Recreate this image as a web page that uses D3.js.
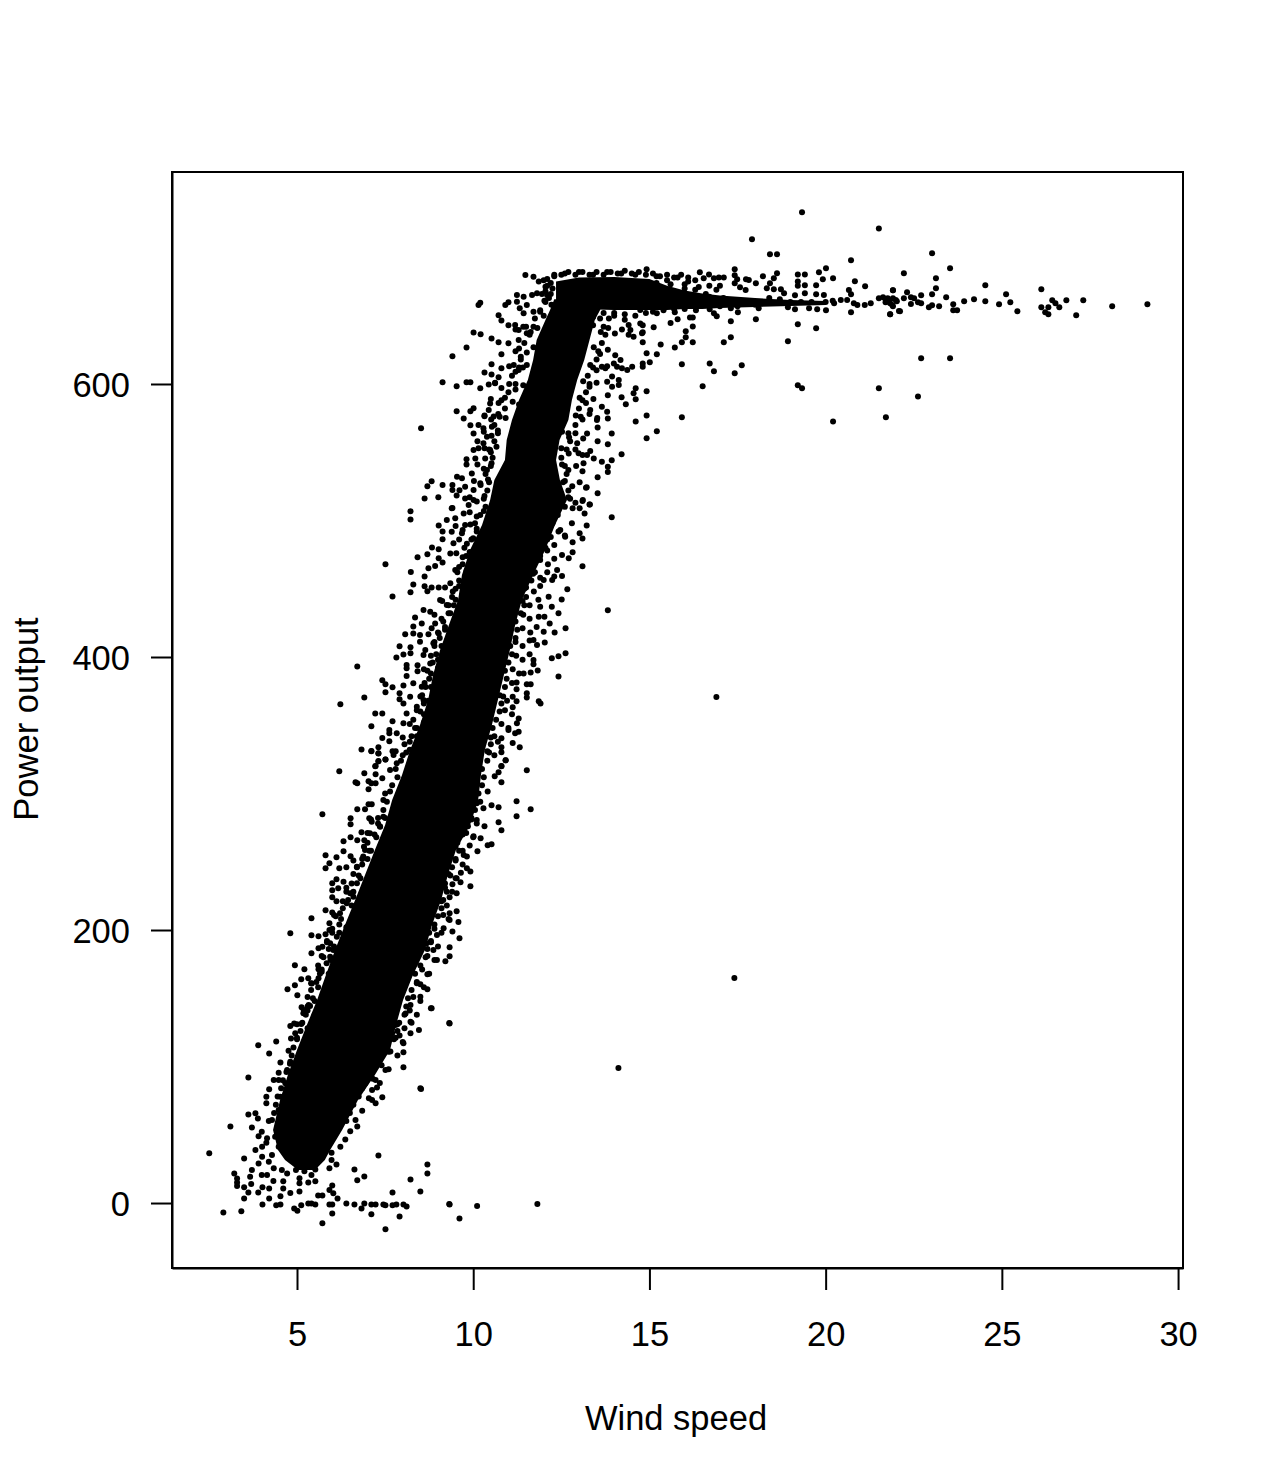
<!DOCTYPE html>
<html lang="en">

<head>
	<title>Wind speed and power output</title>
	<meta charset="utf-8">
	<style>
		body {
			margin: 0;
			background: #fff;
		}

		text {
			font-family: "Liberation Sans", Arial, sans-serif;
			font-size: 34.5px;
			fill: #000;
		}

		.domain,
		.tick line {
			stroke: #000;
			stroke-width: 2px;
		}
	</style>
</head>

<body>
	<svg width="1272" height="1484"></svg>

	<script src="https://d3js.org/d3.v7.min.js"></script>
	<script>
		var xTicks = [5, 10, 15, 20, 25, 30];
		var yTicks = [0, 200, 400, 600];

		// the solid black band, where the points overlap too much to read one by one
		var bandPower = [24.2, 31.5, 38.8, 53.5, 75.5, 93.8, 112.1, 130.4, 148.7, 167, 185.3, 203.7, 222, 240.3, 258.6, 276.9, 295.2, 313.6, 331.9, 350.2, 368.5, 386.8, 405.1, 423.4, 441.8, 460.1, 478.4, 496.7, 515, 529.7, 544.3, 559, 573.6, 588.3, 602.9, 617.6, 632.2, 646.9, 654.2, 662];
		var bandLeft = [5.03, 4.66, 4.46, 4.32, 4.52, 4.74, 5, 5.28, 5.57, 5.82, 6.08, 6.36, 6.65, 6.93, 7.21, 7.5, 7.7, 7.98, 8.21, 8.49, 8.72, 8.86, 9.06, 9.31, 9.57, 9.68, 9.91, 10.25, 10.48, 10.6, 10.9, 10.95, 11.1, 11.3, 11.55, 11.7, 11.8, 12.05, 12.18, 12.3];
		var bandRight = [5.51, 5.79, 5.94, 6.28, 6.73, 7.21, 7.64, 7.81, 8.01, 8.29, 8.63, 8.83, 9.09, 9.28, 9.51, 9.91, 10.14, 10.22, 10.33, 10.53, 10.7, 10.87, 11.04, 11.19, 11.38, 11.7, 12.04, 12.32, 12.66, 12.46, 12.35, 12.45, 12.7, 12.8, 12.95, 13.15, 13.3, 13.45, 13.6, 13.7];

		// same thing for the flat part at rated power
		var plateauWind = [12.35, 13, 14, 15, 15.5, 16, 16.5, 17, 18, 19, 20];
		var plateauLow = [658, 655, 654.2, 654.2, 654.2, 655, 655, 655.7, 656.4, 657.1, 657.9];
		var plateauHigh = [675, 678, 678.4, 677, 672, 668.5, 666.3, 664.8, 663, 661.5, 660.8];

		// [wind, power]
		var lowPoints = [[2.51,36.4],[2.91,-6.9],[3.42,-6.1],[3.11,56.1],[3.62,92],[3.9,115.5],[4.41,118.4],[4.21,109.6],[4.53,103],[3.62,64.9],[3.22,21.7],[3.3,18],[3.3,15.1],[3.3,12.4],[3.5,32.7],[3.5,11.5],[3.62,7.8],[3.5,3.4],[3.7,13.9],[3.9,7.8],[4.02,11.5],[4.21,10.7],[4.02,-1],[4.21,3.4],[4.33,16.1],[4.53,4.9],[4.61,10.7],[4.61,15.9],[4.81,7.3],[4.41,-1.7],[4.53,-1],[4.92,-4],[5.01,-5.6],[5.12,-1.7],[5.32,-0.3],[5.41,-0.3],[5.52,-1],[5.72,-14.9],[6,-7.6],[5.92,-1],[6,-1],[6.4,-0.3],[6.63,-1],[6.83,-4],[6.91,-0.3],[7.11,-1],[7.23,-1],[7.11,-8.3],[7.45,-1],[7.51,-1.7],[7.51,-19.3],[7.71,-1.7],[7.82,-1],[7.91,-9.8],[8.02,-1],[8.11,-2.5],[9.33,-1],[9.61,-11.3],[7.71,7.8],[8.5,8.5],[8.22,17.3],[8.7,21.7],[8.7,28.3],[7.31,34.9],[6.91,19.5],[6.71,16.6],[6.63,24.6],[6.51,52.5],[6.71,56.1],[7.23,73],[7.42,77.4],[8.5,84],[8.02,99.4],[8.02,110.4],[8.02,117],[9.33,131.6],[8.82,142.6],[8.22,124.3],[8.46,126.7],[7.91,122.8],[5.52,24.6],[5.41,20.5],[5.21,23.2],[5.32,15.1],[5.52,15.9],[5.07,18.1],[5.07,14.4],[5.07,8.5],[5.6,5.6],[5.72,5.6],[6,12.9],[5.92,9.5],[6.03,7.1],[6.15,3.4],[6.12,28.3],[5.92,25.4],[5.98,31.5],[5.98,36.9],[6.66,60.8],[7.13,82.8],[7.27,84.7],[7.04,76.7],[7.13,75.4],[6.85,67.6],[6.37,46.6],[6.23,41.2],[4,52.2],[3.72,55.4],[3.91,49],[3.82,65.7],[3.89,62],[4.15,47.4],[4.13,44.2],[3.82,38.8],[4.01,41.3],[4.01,33.9],[4.2,30.3],[3.72,24.2],[3.91,29],[3.67,19.3],[4,20.5],[4.15,20.5],[4.34,25.4],[4.57,24.2],[4.72,21.7],[4.97,24.2],[5.33,29],[4.21,83.3],[4.13,77.9],[4.13,73],[4.34,90.1],[4.48,95.5],[4.72,97.4],[4.81,103.5],[4.76,111.6],[4.83,120.6],[4.95,124.3],[4.81,129.7],[4.92,131.6],[5.12,131.1],[5.19,141.4],[5.33,145],[7.79,130.4],[7.7,124.3],[7.6,110.8],[7.51,97.4],[7.23,90.1],[6.94,87.7],[8.08,138.9],[8.22,132.8],[8.22,145],[4.48,90.1],[4.67,87.7],[4.53,77.9],[4.48,68.1],[4.29,60.8],[4.38,48.6],[4.48,41.3],[4.29,35.1],[8.52,83.5],[9.32,131.9],[9.32,-0.7],[10.11,-2.2],[11.82,-0.7],[14.12,98.9],[17.41,164.8]];

		var midPoints = [[6.2,316.3],[6.91,314.8],[7.23,314.1],[7.23,320.2],[7.31,323.8],[7.31,329.5],[7.11,331.2],[7.51,325],[6.66,308.2],[6.71,307.5],[7.03,308.9],[7.11,307.5],[7.23,307.5],[7.42,311.1],[7.03,303.1],[6.71,288.4],[5.72,284.8],[6.52,281.8],[6.52,277.4],[6.93,288.4],[7.05,281.8],[7.12,279.4],[7.03,292.1],[7.12,292.1],[6.83,271.6],[6.32,265],[6.52,267.9],[6.71,265.7],[6.91,265.7],[6.32,257.7],[5.81,254.7],[6.12,253.3],[6.52,254],[5.92,248.9],[5.81,245.2],[6.2,245.2],[6.4,245.9],[6.12,237.2],[6.32,235.4],[6,234.2],[6.17,230.6],[6,229.1],[6,224],[6.12,221],[5.81,214.4],[6,212.9],[5.41,208.6],[4.81,197.6],[5.41,196.1],[5.61,195.4],[5.81,196.9],[5.92,204.9],[5.92,200],[5.61,186.6],[5.72,187.8],[5.41,182.9],[4.94,174.2],[5.21,171.2],[5.12,163.9],[5.32,164.6],[5.61,171.2],[5.61,164.6],[4.73,156.6],[4.94,159.5],[5.01,152.2],[5.42,160.9],[5.13,143.4],[5.37,144.4],[5.18,139],[5.84,175.6],[5.7,169.5],[5.94,180.5],[5.94,190.3],[6.13,195.1],[6.03,185.4],[6.41,219.6],[6.22,212.2],[6.6,224.4],[6.51,226.9],[6.7,234.2],[6.93,258.6],[6.88,253.8],[6.7,246.4],[7.07,270.9],[7.36,275.7],[7.45,283],[7.45,295.3],[7.64,301.4],[7.64,317.2],[7.83,322.1],[7.74,328.2],[11.52,317],[11.23,294.3],[11.63,288.4],[11.23,283.3],[10.72,289.9],[10.52,291.4],[10.72,278.9],[10.8,273],[10.32,276],[10.01,268.7],[10.21,267.2],[10.52,262.8],[10.41,262.1],[10.12,257.7],[10.8,308.2],[10.61,312.6],[10.72,315.5],[10.8,320.2],[10.92,324.3],[10.8,330.2],[10.41,301.4],[10.1,292.8],[10.29,289.2],[10.1,280.6],[9.73,255],[9.82,253.8],[9.82,245.2],[9.92,242.8],[9.41,233.5],[9.64,234.9],[9.92,232],[9.53,226.9],[9.33,224],[9.53,237.9],[9.53,213.7],[9.33,212.2],[9.58,205.9],[9.33,207.4],[9.41,199],[9.61,193.9],[9.16,201.3],[8.97,196.4],[9.33,187.3],[9.33,180.7],[9.21,177.1],[8.97,178],[8.7,167.6],[8.5,160.2],[8.7,156.6],[8.5,151.2],[8.8,142.6],[8.87,185.4],[8.68,190.3],[16.9,370.7]];

		var upperPoints = [[8.22,506.7],[8.22,500.8],[9.02,496.4],[9.13,492],[9.13,486.2],[9.39,508.9],[9.25,500.3],[9.49,501.6],[9.39,491.8],[8.83,480.3],[9.02,478.9],[8.7,475.2],[8.42,473],[9.02,472.3],[9.13,469.3],[7.51,467.9],[8.73,465],[8.92,466.6],[8.23,462.3],[8.62,459],[8.3,453.2],[8.22,447.4],[7.71,444.4],[8.62,451.8],[8.82,451],[8.7,448.1],[9.02,451],[9.06,441.7],[9.25,438.1],[9.35,454],[9.49,463.7],[9.35,475.9],[9.44,483.3],[9.68,490.6],[9.77,496.7],[9.73,505.2],[9.87,511.3],[8.59,434.4],[8.35,429],[8.54,424.6],[8.78,433.2],[8.92,424.6],[8.3,422.4],[8.3,417.3],[8.07,416.6],[8.49,416.1],[8.73,416.6],[9.02,417.3],[7.91,407.8],[8.22,407.1],[8.02,401.9],[8.22,402.7],[7.82,399.7],[8.49,411.2],[8.64,405.1],[8.87,410],[8.59,401.4],[6.71,393.1],[8.11,394.1],[8.11,391.7],[8.11,386.1],[8.42,393.9],[8.42,389.5],[8.78,395.3],[7.42,382.9],[7.51,380],[7.71,377.8],[7.51,374.1],[8.02,379.2],[7.91,373.4],[7.91,369],[8.3,380.7],[6.91,370.4],[6.23,365.3],[7.22,358.7],[7.42,358.7],[7.71,352.9],[7.11,349.2],[7.62,346.5],[7.62,344.1],[7.42,340.6],[7.62,338.2],[6.83,332.3],[7.11,330.9],[7.31,333.8],[7.31,329.4],[7.71,330.9],[7.31,323.5],[7.22,319.9],[7.51,325],[8.02,366],[8.21,370.9],[8.11,358.7],[7.83,344.1],[8.02,351.4],[8.54,378.2],[8.59,368.5],[8.4,363.6],[13.93,502.3],[13.82,434.2],[13.1,466.4],[12.82,484],[12.82,476.7],[12.71,472.3],[13.1,486.9],[13.02,490.6],[13.22,496.4],[13.16,505.2],[12.82,508.9],[13.31,511.8],[13.1,514.3],[12.8,497.9],[12.47,493],[12.61,488.1],[12.52,474.7],[12.38,463.7],[12.52,459.3],[12.24,456.4],[12,456.4],[12.67,449.6],[12.14,444.2],[12.51,442.2],[12.23,436.9],[12.42,432],[11.9,436.9],[12.02,429.5],[11.86,429.5],[12.17,424.6],[12.62,421],[12.31,418],[12,418.5],[12.03,410.7],[11.71,412.4],[11.81,408.8],[12.62,402.7],[12.42,400.5],[12.23,399],[12.42,385.8],[11.71,397.8],[11.71,394.6],[11.83,390.2],[11.63,388.7],[11.43,388],[11.63,380],[11.52,380],[11.23,376.3],[11.52,373.4],[11.52,370.4],[11.23,381.4],[11.86,367.5],[11.91,366],[11.23,367.5],[11.12,363.1],[11.12,370.9],[11.29,355],[11.24,351.4],[11.29,345.3],[11.19,344.1],[11,346.5],[10.8,340.4],[11.12,337],[11.32,333.8],[10.8,333.8],[10.92,324.3],[10.8,319.9]];

		var shoulderPoints = [[8.52,567.5],[9.41,620.3],[9.81,626.8],[10.01,637.8],[10.21,636.4],[10.15,657.9],[10.2,659.6],[10.52,633.4],[10.72,630.5],[11,629.8],[10.72,650.3],[10.8,646.6],[11,643],[10.91,657.9],[11,659.8],[11.24,665.2],[11.43,664],[11.24,660.3],[11.32,655.4],[11.43,651.8],[11.48,679.8],[11.71,678.6],[11.86,675],[12.05,671.3],[11.67,665.2],[11.81,666.4],[11.52,657.9],[11.71,653],[11.9,653],[9.13,601.2],[9.53,598.3],[9.81,601.2],[9.92,601.2],[10.32,608.5],[10.52,614.4],[10.52,607],[10.8,611.5],[10.8,621.7],[10.72,604.9],[10.44,599.7],[10.2,596.8],[10.62,600.5],[9.53,580],[9.73,574.8],[9.92,580],[10.01,582.2],[10.32,576.3],[9.92,569.7],[10.15,570],[10.29,567.5],[10.01,563.8],[10.12,558],[10.15,552.9],[10.01,551.6],[10.06,545.5],[9.81,544.8],[9.81,541.1],[9.54,532.1],[9.68,530.9],[9.96,534.5],[8.82,528.7],[8.7,525],[8.62,516.2],[9.01,517],[9.13,526],[9.41,526],[9.41,522.3],[9.61,522.1],[9.53,518.4],[9.41,509.1],[9.77,524.8],[9.77,516.2],[10.01,515],[11.15,613.9],[11.29,610.2],[11.52,613.9],[11.19,643.2],[11.29,639.5],[11.29,632.2],[11.52,637.1],[11.71,642],[14.74,654.2],[14.74,644.4],[14.79,637.1],[14.46,639.5],[14.55,634.7],[14.41,643.2],[14.18,617.6],[13.99,615.1],[14.22,611.5],[14.08,612.7],[14.51,612.7],[14.37,610.2],[13.65,612.7],[13.75,611.5],[13.94,605.4],[14.13,602.9],[14.13,599.3],[13.94,598],[13.8,601.7],[14.61,596.8],[14.55,593.2],[14.61,588.8],[14.21,590.2],[14.33,585.1],[13.82,591.7],[14.61,572.6],[14.21,548.5],[13.93,544.1],[13.82,555.8],[13.53,558],[13.53,568.2],[13.82,574.8],[13.93,563.8],[13.82,539.4],[13.82,535.5],[13.53,531.6],[13.53,519.9],[13.3,511.8],[13.11,515],[13.22,524.3],[13.02,508.9],[13.42,545.5],[13.65,543.1],[13.23,548],[12.99,549.2],[13.13,541.9],[13.65,583.4],[13.8,579.7],[13.32,581],[13.51,573.6],[13.23,563.8],[12.95,556.5],[10.48,585.8],[10.44,581],[10.58,576.1],[10.53,568.7],[10.39,561.4],[10.29,556.5],[10.48,551.6],[10.34,545.5],[10.39,537],[10.2,527.2],[10.01,522.3]];

		var plateauPoints = [[19.33,725.8],[21.51,714],[17.91,706],[18.42,695],[18.62,695],[20.72,690.6],[14.92,684],[20.01,684.7],[17.42,684],[16.43,681.8],[16.69,680.3],[17.11,678.1],[16.97,678.1],[16.83,677.4],[16.54,677.4],[18.62,681.1],[18.53,677.4],[18.42,673.8],[18.33,670.1],[18.22,678.9],[18.02,673.8],[17.74,676.7],[17.82,676.2],[17.42,679.6],[17.49,676.7],[17.42,673.8],[17.57,670.8],[17.73,668.9],[19.21,680.3],[19.41,680.3],[19.21,675],[19.21,672],[19.41,672.3],[19.81,681.8],[19.92,676.7],[19.73,672.3],[20.21,677.4],[18.53,669.4],[18.73,669.4],[18.82,666.4],[19.41,666.4],[19.73,665.7],[19.95,665.2],[19.13,665],[20.83,675.2],[21.12,671.6],[20.66,668.9],[20.72,665.7],[21.91,668.6],[21.51,662.8],[21.76,662.8],[20.61,661.5],[20.43,661.5],[20.24,659.1],[20.8,659.1],[21.28,659.1],[21.11,657.9],[20.9,657.9],[21.8,660.3],[21.99,661.5],[21.89,657.9],[22.08,653.5],[21.83,651],[20.72,652.5],[19.76,654.7],[20.01,654],[19.53,655.4],[19.13,654.7],[18.93,656.2],[18.1,655.4],[17.51,652.5],[17.31,655.4],[16.91,649.6],[16.83,651.8],[16.71,654.7],[16.32,654],[15.72,652.5],[15.21,651.8],[18.02,647.4],[17.31,645.9],[16.23,642.2],[16.15,648.8],[16.23,648.8],[15.8,647.4],[15.6,644.7],[15.12,641.5],[14.81,643],[14.81,637.9],[14.81,630.5],[19.21,643.7],[19.73,640.8],[16.03,638.6],[16.03,634.2],[15.92,630.5],[16.23,630.5],[15.72,626.8],[15.32,629],[17.11,630.5],[17.31,634.2],[18.93,631.3],[15.21,621.7],[14.92,622.5],[15.01,615.9],[14.81,615.1],[14.81,612.7],[15.92,614.4],[16.71,615.1],[17.62,613.7],[16.83,609.3],[17.42,607.8],[16.51,598.3],[19.21,599],[19.33,596.8],[21.51,596.8],[14.92,594.6],[14.92,577],[15.92,575.6],[20.21,572.6],[21.71,575.6],[15.21,565.3],[14.92,560.2],[23.02,695.7],[23.53,684.7],[22.22,681.1],[23.13,677.4],[23.13,670.1],[22.31,667.2],[21.91,668.6],[22.71,665],[23.02,665.7],[23.42,663.5],[22.22,662.8],[22.42,663.5],[22.51,662.8],[21.91,662.8],[21.63,663.5],[21.7,662],[22.02,660.6],[22.42,658.6],[22.62,659.8],[22.71,659.1],[21.83,659.1],[21.91,656.9],[21.7,659.8],[22.11,653.2],[21.83,651],[22.93,656.2],[23.02,657.6],[23.22,656.9],[23.62,658.4],[23.62,654],[23.73,654],[23.93,660.6],[24.21,662],[24.53,660.6],[24.53,672.3],[24.92,658.4],[25.12,665.7],[25.24,659.8],[25.44,653.2],[26.12,669.4],[26.12,656.2],[26.23,652.5],[26.32,651],[26.32,656.2],[26.43,661.3],[26.52,659.1],[26.63,656.2],[26.83,661.3],[27.11,650.3],[27.31,661.3],[28.13,656.9],[29.13,658.4],[22.71,618.8],[23.53,618.8],[22.62,590.9]];

		// loose points hugging both edges of the band
		var edgePoints = [[11.2,640],[11.42,642],[11.63,638],[11.82,641],[13.4,643],[13.62,638],[13.83,641],[14.02,637],[14.22,640],[14.41,636],[11.3,626],[11.52,623],[11.71,627],[11.35,620],[13.42,627],[13.6,622],[13.82,625],[14.03,621],[11.02,613],[11.2,609],[11.41,612],[13.32,614],[13.5,610],[13.8,613],[10.62,601],[10.8,597],[11.02,600],[11.2,596],[11.42,599],[13.12,602],[13.3,598],[13.5,601],[10.5,589],[10.72,586],[10.9,590],[11.12,587],[11.3,585],[13.02,590],[13.2,586],[13.41,589],[10.32,577],[10.51,574],[10.71,578],[10.92,575],[12.91,577],[13.1,574],[13.3,578],[13.52,575],[10.3,565],[10.52,562],[10.7,566],[12.52,565],[12.72,561],[12.9,564],[13.12,560],[10.32,553],[10.5,550],[10.66,554],[12.5,553],[12.71,549],[12.9,552],[13.1,548],[13.32,551],[10.12,541],[10.3,538],[10.52,542],[12.52,541],[12.7,537],[12.92,540],[13.1,536],[10.02,529],[10.21,526],[10.42,530],[12.6,529],[12.81,525],[13.02,528],[13.2,524],[9.9,517],[10.1,514],[10.32,518],[12.7,517],[12.9,513],[9.9,506],[10.1,503],[10.3,507],[9.5,496],[9.7,493],[9.92,497],[10.1,494],[10.32,492],[9.6,486],[9.82,483],[10,487],[10.2,484],[9.52,476],[9.7,473],[9.9,477],[9.6,466],[9.81,463],[9.2,451],[9.42,448],[9.6,452],[9.76,449],[9.12,441],[9.3,438],[9.5,442],[9.7,439],[8.9,431],[9.1,428],[9.3,432],[9.5,429],[8.82,421],[9,418],[9.2,422],[8.9,411],[9.1,408],[9.26,412],[8.8,401],[9,398],[9.2,402],[8.6,391],[8.8,388],[9,392],[8.62,381],[8.8,378],[9.05,382],[8.5,371],[8.72,368],[8.95,372],[8.4,361],[8.6,358],[8.8,362],[8.2,351],[8.4,348],[8.6,352],[8,341],[8.2,338],[8.4,342],[7.8,331],[8,328],[8.2,332],[12,491],[12.2,488],[12.42,492],[12.6,489],[11.92,481],[12.1,478],[12.3,482],[11.9,471],[12.12,468],[12.3,472],[11.7,461],[11.9,458],[12.1,462],[12.3,459],[11.5,451],[11.72,448],[11.9,452],[11.4,441],[11.6,438],[11.85,442],[11.42,431],[11.6,428],[11.4,421],[11.62,418],[11.8,422],[11.2,411],[11.4,408],[11.6,412],[11.22,401],[11.4,398],[11.6,402],[11.12,391],[11.3,388],[11.1,381],[10.85,371],[10.96,368],[10.9,361],[11.1,358],[10.8,351],[11,348],[10.5,341],[10.7,338],[10.4,331],[10.6,328],[7.1,281],[7.3,278],[7.5,282],[7,271],[7.25,268],[6.9,261],[7.1,258],[6.6,251],[6.85,248],[7,252],[6.6,241],[6.8,238],[6.4,231],[6.6,228],[6.3,221],[6.55,218],[6.05,211],[6.25,208],[6,201],[6.2,198],[6.4,202],[5.85,191],[6.05,188],[5.7,181],[5.95,178],[5.7,171],[5.9,168],[5.4,161],[5.6,158],[5.3,151],[5.5,148],[5.3,141],[5.5,138],[5,131],[5.3,128],[5.5,132],[5,121],[5.3,118],[9.95,281],[10.1,278],[9.8,271],[10,268],[9.5,261],[9.7,258],[9.9,262],[9.5,251],[9.7,248],[9.3,241],[9.5,238],[9.65,242],[9.2,231],[9.4,228],[9.1,221],[9.25,218],[9.15,211],[9.3,208],[8.9,201],[9.1,198],[8.8,191],[9,188],[8.7,181],[8.9,178],[8.55,171],[8.75,168],[8.4,161],[8.6,158],[8.3,151],[8.5,148],[8.2,141],[8.4,138],[7.85,131],[8.05,128],[8.25,132],[7.8,121],[8,118],[7.65,111],[7.85,108],[7.4,101],[7.6,98],[7.15,91],[7.35,88],[12.1,665],[12.02,661],[12.22,658],[12,650],[12.3,652],[12.6,650],[12.9,648],[13.3,651],[13.6,648],[14,650],[14.3,647],[12.3,680],[12.6,681],[13,682],[13.4,680],[13.8,682],[14.2,681],[14.6,680],[15.2,679],[15.5,676],[15.8,678],[16.1,675],[15.4,670],[15.7,668],[16,670],[16.3,669],[16.6,666],[16.9,669]];

		var leftRim = [[4.2,60],[4.35,66],[4.4,72],[4.45,78],[4.55,84],[4.6,90],[4.7,96],[4.8,102],[4.85,108],[4.9,114],[5,120],[5.1,126],[5.15,132],[5.25,138],[5.3,144],[5.45,150],[5.4,156],[5.55,162],[5.65,168],[5.6,174],[5.75,180],[5.9,186],[5.85,192],[6,198],[6.2,204],[6.1,210],[6.3,216],[6.45,222],[6.4,228],[6.55,234],[6.75,240],[6.7,246],[6.85,252],[7.05,258],[7,264],[7.2,270],[7.35,276],[7.3,282],[7.45,288],[7.55,294],[7.5,300],[7.7,306],[7.85,312],[7.8,318],[7.95,324],[8.1,330],[8.05,336],[8.25,342],[8.35,348],[8.3,354],[8.5,360],[8.6,366],[8.55,372],[8.65,378],[8.75,384],[8.7,390],[8.85,396],[8.95,402],[8.9,408],[9.05,414],[9.2,420],[9.15,426],[9.35,432],[9.45,438],[9.4,444],[9.5,450],[9.6,456],[9.55,462],[9.7,468],[9.8,474],[9.75,480],[9.95,486],[10.1,492],[10.05,498],[10.2,504],[10.35,510],[10.3,516],[10.4,522],[10.45,528],[10.35,534],[10.5,540],[10.55,546],[10.45,552],[10.6,558],[10.7,564],[10.6,570],[10.75,576],[10.9,582],[10.8,588],[11,594],[11.2,600],[11.1,606],[11.3,612],[11.35,618],[11.2,624],[11.45,630],[11.6,636],[11.5,642],[11.75,648],[11.9,654],[12.05,660],[11.95,666],[12.1,672],[12,676]];

		var rightRim = [[6.4,60],[6.5,66],[6.6,72],[6.75,78],[6.85,84],[6.95,90],[7.1,96],[7.2,102],[7.35,108],[7.5,114],[7.75,120],[7.85,126],[7.9,132],[8.05,138],[8.1,144],[8.15,150],[8.25,156],[8.4,162],[8.35,168],[8.5,174],[8.65,180],[8.7,186],[8.8,192],[8.75,198],[8.9,204],[9,210],[9.1,216],[9.15,222],[9.25,228],[9.2,234],[9.35,240],[9.4,246],[9.5,252],[9.6,258],[9.55,264],[9.7,270],[9.85,276],[9.95,282],[10.05,288],[10.2,294],[10.15,300],[10.25,306],[10.3,312],[10.25,318],[10.4,324],[10.45,330],[10.5,336],[10.6,342],[10.55,348],[10.65,354],[10.75,360],[10.8,366],[10.75,372],[10.9,378],[10.95,384],[10.9,390],[11,396],[11.1,402],[11.05,408],[11.2,414],[11.25,420],[11.2,426],[11.35,432],[11.45,438],[11.5,444],[11.45,450],[11.65,456],[11.75,462],[11.7,468],[11.9,474],[12.05,480],[12.1,486],[12.05,492],[12.25,498],[12.4,504],[12.6,510],[12.75,516],[12.7,522],[12.55,528],[12.65,534],[12.6,540],[12.5,546],[12.65,552],[12.75,558],[12.7,564],[12.9,570],[13.05,576],[13,582],[13.1,588],[13.2,594],[13.3,600],[13.25,606],[13.4,612],[13.5,618],[13.55,624],[13.65,630],[13.75,636],[13.7,642],[13.85,648]];

		var plateauRim = [[12.3,679],[12.5,680],[12.7,682],[12.9,680],[13.1,682],[13.3,680],[13.5,682],[13.7,680],[13.9,682],[14.1,681],[14.3,683],[14.5,681],[14.7,682],[14.9,680],[15.1,681],[15.3,679],[15.5,680],[15.7,678],[15.9,680],[16.1,678],[16.3,676],[15.2,674],[15.6,673],[16,673],[16.4,671],[16.7,672],[17,672],[15.4,666],[15.9,664],[16.3,663],[16.7,664],[17.1,663],[16.5,658],[17,657],[17.5,657],[18,658],[18.4,663],[18.7,662],[19,660],[19.3,660],[19.6,660],[20,660],[20.2,661],[12.5,652],[12.8,652],[13.1,651],[13.4,649],[13.7,652],[14,652],[14.3,651],[14.6,650],[14.9,652],[15.1,653],[15.4,654],[15.7,655],[16,655],[12.1,677],[12.05,668],[12.15,663],[12.2,674],[12.25,670],[12.2,666]];

		var allPoints = lowPoints.concat(midPoints, upperPoints, shoulderPoints, plateauPoints, edgePoints, leftRim, rightRim, plateauRim);

		var svg = d3.select("svg");
		var plot = { left: 172, right: 1183, top: 172, bottom: 1268 };

		var x = d3.scaleLinear().domain([1.453, 30.14]).range([plot.left, plot.right]);
		var y = d3.scaleLinear().domain([-47.6, 755.3]).range([plot.bottom, plot.top]);

		svg.append("path")
			.datum(bandPower)
			.attr("d", d3.area()
				.y(function(d) { return y(d); })
				.x0(function(d, i) { return x(bandLeft[i]); })
				.x1(function(d, i) { return x(bandRight[i]); }));

		svg.append("path")
			.datum(plateauWind)
			.attr("d", d3.area()
				.x(function(d) { return x(d); })
				.y0(function(d, i) { return y(plateauLow[i]); })
				.y1(function(d, i) { return y(plateauHigh[i]); }));

		svg.append("g")
			.selectAll("circle")
			.data(allPoints)
			.enter().append("circle")
			.attr("cx", function(d) { return x(d[0]); })
			.attr("cy", function(d) { return y(d[1]); })
			.attr("r", 3)
			.style("fill", "#000");

		svg.append("rect")
			.attr("x", plot.left)
			.attr("y", plot.top)
			.attr("width", plot.right - plot.left)
			.attr("height", plot.bottom - plot.top)
			.style("fill", "none")
			.style("stroke", "#000")
			.style("stroke-width", 2);

		var xAxis = svg.append("g")
			.attr("transform", "translate(0," + plot.bottom + ")")
			.call(d3.axisBottom(x).tickValues(xTicks).tickSize(22).tickSizeOuter(0));
		xAxis.selectAll("text").attr("dy", "0").attr("y", 78);

		var yAxis = svg.append("g")
			.attr("transform", "translate(" + plot.left + ",0)")
			.call(d3.axisLeft(y).tickValues(yTicks).tickSize(21).tickSizeOuter(0).tickPadding(21));
		yAxis.selectAll("text").attr("dy", "0.35em");

		svg.append("text")
			.attr("x", 676)
			.attr("y", 1430)
			.style("text-anchor", "middle")
			.text("Wind speed");

		svg.append("text")
			.attr("transform", "translate(38,719) rotate(-90)")
			.style("text-anchor", "middle")
			.text("Power output");
	</script>
</body>

</html>
